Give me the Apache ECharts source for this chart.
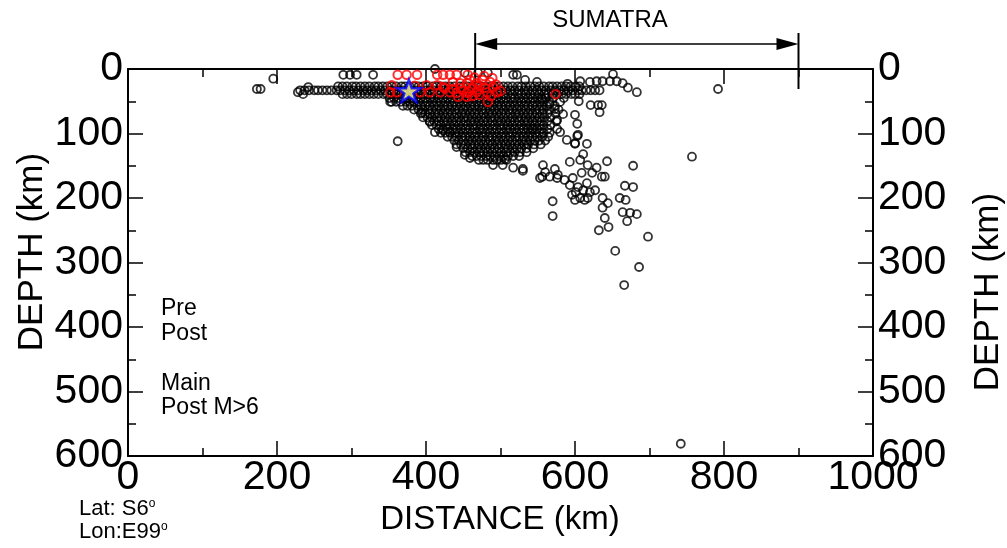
<!DOCTYPE html>
<html>
<head>
<meta charset="utf-8">
<script src="https://cdn.jsdelivr.net/npm/echarts@6/dist/echarts.min.js"></script>
<style>
html, body { margin: 0; padding: 0; background: #fff; }
#chart { width: 1007px; height: 548px; }
</style>
</head>
<body>
<div id="chart"></div>
<script>
// axes: distance along the profile (km), depth (km)
const distanceAxis = [0, 1000, 200];
const depthAxis = [0, 600, 100];

// scattered black events [distance, depth]
const edgeEvents = [
  [173,31],[178,31],[195,15],[228,36],[235,39],[242,28],
  [289,9],[298,9],[307,9],[329,9],[412,0],[452,6],[470,6],[483,6],[517,9],[522,9],
  [533,17],[549,20],[651,8],[590,23],[607,19],[620,20],[629,19],[637,19],[647,19],
  [656,19],[664,22],[671,29],[683,36],[792,31],
  [395,68],[405,82],[412,98],[423,95],[432,98],[441,121],[452,133],[459,138],
  [362,112],[374,45],[352,51]
];

// the fixed-depth band near 33 km, one row per depth: [depth, distances]
const bandRows = [
  [27, [282,288,294,301,306,312,318,324,331,336,342,348,354,360,367,372,378,384,390,396,402,409,414,420,426,
        432,438,445,450,456,462,468,474,480,487,492,498,504,510,516,523,528,534,540,546,552,558,565,570,576,
        582,588,594,601,606]],
  [33, [231,237,243,250,255,261,267,273,280,285,291,297,303,309,316,321,327,333,339,345,352,357,363,369,375,
        381,388,393,399,405,411,417,424,429,435,441,447,453,460,465,471,477,483,489,496,501,507,513,519,525,
        532,537,543,549,555,561,568,573,579,585,591,597,604,609,615,621,627,633]],
  [39, [288,294,300,307,312,318,324,330,336,343,348,354,360,366,372,379,384,390,396,402,408,415,420,426,432,
        438,444,451,456,462,468,474,480,487,492,498,504,510,516,523,528,534,540,546,552,559,564,570,576,582,
        588,595,600,606]]
];

// dense slab cluster below the band: [depth, distances]
const slabRows = [
  [45, [351,357,363,370,375,381,387,393,399,406,411,417,423,429,435,442,447,453,459,465,471,478,483,489,495,501,507,514,519,525,531,537,543,550,555,561,570,585]],
  [51, [354,360,366,373,378,384,390,396,402,409,414,420,426,432,438,445,450,456,462,468,474,481,486,492,498,504,510,517,522,528,534,540,546,553,558,566,580]],
  [57, [369,375,381,388,393,399,405,411,417,424,429,435,441,447,453,460,465,471,477,483,489,496,501,507,513,519,525,532,537,543,549,555,562,573]],
  [63, [384,390,396,403,408,414,420,426,432,439,444,450,456,462,468,475,480,486,492,498,504,511,516,522,528,534,540,547,552,558,566,578]],
  [69, [393,399,405,412,417,423,429,435,441,448,453,459,465,471,477,484,489,495,501,507,513,520,525,531,537,543,549,556,563,574]],
  [75, [396,402,408,415,420,426,432,438,444,451,456,462,468,474,480,487,492,498,504,510,516,523,528,534,540,546,552,559,567]],
  [81, [405,411,417,424,429,435,441,447,453,460,465,471,477,483,489,496,501,507,513,519,525,532,537,543,549,555,563,575]],
  [87, [408,414,420,427,432,438,444,450,456,463,468,474,480,486,492,499,504,510,516,522,528,535,540,546,552,558,567]],
  [93, [417,423,429,436,441,447,453,459,465,472,477,483,489,495,501,508,513,519,525,531,537,544,549,555,563,576]],
  [99, [420,426,432,439,444,450,456,462,468,475,480,486,492,498,504,511,516,522,528,534,540,547,552,558,566]],
  [105, [429,435,441,448,453,459,465,471,477,484,489,495,501,507,513,520,525,531,537,543,549,556,564]],
  [111, [438,444,450,457,462,468,474,480,486,493,498,504,510,516,522,529,534,540,546,552,560]],
  [117, [441,447,453,460,465,471,477,483,489,496,501,507,513,519,525,532,537,545,554]],
  [123, [450,456,462,469,474,480,486,492,498,505,510,516,522,528,535,544]],
  [129, [453,459,465,472,477,483,489,495,501,508,513,519,526,535]],
  [135, [462,468,474,481,486,492,498,504,510,517,525]],
  [141, [471,477,483,490,495,501,508]]
];

// deeper events along the dipping slab
const deepEvents = [
  [605,50],[621,56],[631,56],[636,56],[633,67],[556,47],[566,54],[573,62],[584,70],[600,71],
  [603,85],[576,79],[542,93],[580,98],[589,110],[600,116],[616,116],[604,102],[611,132],[607,141],
  [643,143],[678,150],[593,144],[573,155],[557,149],[556,167],[566,167],[577,164],[530,155],[517,153],
  [503,149],[490,149],[506,140],[603,104],[600,115],[629,153],[617,149],[560,160],[530,158],[553,169],
  [576,169],[586,172],[597,169],[609,161],[623,161],[636,167],[640,167],[593,180],[604,183],[616,177],
  [627,188],[596,195],[607,200],[617,200],[600,203],[570,205],[570,228],[637,200],[644,208],[637,215],
  [640,231],[660,200],[668,203],[667,181],[678,183],[664,222],[674,223],[683,225],[670,236],[632,250],
  [645,245],[698,260],[654,282],[686,307],[666,335],[757,136],[742,581],[611,188],[620,191],[601,191],
  [613,203]
];

// red events
const redEvents = [
  [362,9],[374,9],[388,9],[415,9],[423,9],[432,9],[441,9],[456,9],
  [354,25],[352,36],[361,36],[385,26],[401,25],[415,25],[423,28],[436,20],[446,22],[455,22],
  [468,22],[476,17],[486,20],[392,36],[405,36],[419,36],[432,36],[441,37],[455,37],[468,36],
  [482,36],[495,36],[500,34],[443,43],[455,43],[472,40],[483,51],[425,30],[436,31],[450,33],
  [462,29],[472,26],[479,29],[490,28],[459,17],[574,39],[465,13],[478,11],[489,14],[494,24],
  [446,30],[458,35],[470,32],[487,42],[462,42]
];

const mainShock = [[377, 34]];
const sumatraRange = [466, 900];
const legendLabels = ['Pre', 'Post', 'Main', 'Post M>6'];

const FONT = '"Liberation Sans", Arial, sans-serif';

function rowsToPoints(rows) {
  let pts = [];
  rows.forEach(function (r) {
    r[1].forEach(function (x) { pts.push([x, r[0]]); });
  });
  return pts;
}

const blackEvents = edgeEvents.concat(rowsToPoints(bandRows), rowsToPoints(slabRows), deepEvents);

let myChart = echarts.init(document.getElementById('chart'));

function xAxisOpt(pos) {
  return {
    type: 'value', position: pos,
    min: distanceAxis[0], max: distanceAxis[1], interval: distanceAxis[2],
    axisLine: { show: true, onZero: false, lineStyle: { color: '#000', width: 2 } },
    axisTick: { show: true, inside: true, length: 15, lineStyle: { color: '#000', width: 1.5 } },
    minorTick: { show: true, splitNumber: 2, length: 8, lineStyle: { color: '#000', width: 1.5 } },
    axisLabel: { show: pos === 'bottom', color: '#000', fontSize: 41, fontFamily: FONT, margin: 1,
      formatter: function (v) { return String(v); } },
    splitLine: { show: false }
  };
}

function yAxisOpt(pos) {
  return {
    type: 'value', position: pos, inverse: true,
    min: depthAxis[0], max: depthAxis[1], interval: depthAxis[2],
    axisLine: { show: true, onZero: false, lineStyle: { color: '#000', width: 2 } },
    axisTick: { show: true, inside: true, length: 15, lineStyle: { color: '#000', width: 1.5 } },
    minorTick: { show: true, splitNumber: 2, length: 8, lineStyle: { color: '#000', width: 1.5 } },
    axisLabel: { show: true, color: '#000', fontSize: 41, fontFamily: FONT, margin: 5,
      formatter: function (v) { return String(v); } },
    splitLine: { show: false }
  };
}

myChart.setOption({
  animation: false,
  backgroundColor: '#fff',
  grid: { left: 128, top: 69, width: 745, height: 387 },
  xAxis: [xAxisOpt('bottom'), xAxisOpt('top')],
  yAxis: [yAxisOpt('left'), yAxisOpt('right')],
  series: [
    {
      type: 'scatter', data: blackEvents, symbol: 'circle', symbolSize: 8,
      itemStyle: { color: 'rgba(0,0,0,0)', borderColor: '#000', borderWidth: 1.8 },
      silent: true, large: false
    },
    {
      type: 'scatter', data: redEvents, symbol: 'circle', symbolSize: 8.5,
      itemStyle: { color: 'rgba(0,0,0,0)', borderColor: '#ff0000', borderWidth: 2 },
      silent: true
    },
    {
      type: 'scatter', data: mainShock,
      symbol: 'path://M12,0 L14.9,8.6 L24,8.6 L16.6,14 L19.4,22.6 L12,17.3 L4.6,22.6 L7.4,14 L0,8.6 L9.1,8.6 Z',
      symbolSize: [24, 22],
      itemStyle: { color: '#ffff99', borderColor: '#0000ff', borderWidth: 2.5 },
      silent: true, z: 5
    }
  ]
});

// annotations
let bx0 = myChart.convertToPixel({ xAxisIndex: 0 }, sumatraRange[0]);
let bx1 = myChart.convertToPixel({ xAxisIndex: 0 }, sumatraRange[1]);
let arrowY = 44;
let lineStyle = { stroke: '#000', lineWidth: 2 };

let graphics = [
  { type: 'line', shape: { x1: bx0, y1: 33, x2: bx0, y2: 89 }, style: lineStyle },
  { type: 'line', shape: { x1: bx1, y1: 33, x2: bx1, y2: 89 }, style: lineStyle },
  { type: 'line', shape: { x1: bx0 + 10, y1: arrowY, x2: bx1 - 10, y2: arrowY }, style: { stroke: '#000', lineWidth: 1.5 } },
  { type: 'polygon', shape: { points: [[bx0, arrowY], [bx0 + 22, arrowY - 6], [bx0 + 22, arrowY + 6]] }, style: { fill: '#000' } },
  { type: 'polygon', shape: { points: [[bx1, arrowY], [bx1 - 22, arrowY - 6], [bx1 - 22, arrowY + 6]] }, style: { fill: '#000' } },
  { type: 'text', x: 610, y: 20, style: { text: 'SUMATRA', fontSize: 24, fontFamily: FONT, fill: '#000', align: 'center', verticalAlign: 'middle' } },
  { type: 'text', x: 32, y: 252, rotation: Math.PI / 2, style: { text: 'DEPTH (km)', fontSize: 35, fontFamily: FONT, fill: '#000', align: 'center', verticalAlign: 'middle' } },
  { type: 'text', x: 988, y: 292, rotation: Math.PI / 2, style: { text: 'DEPTH (km)', fontSize: 35, fontFamily: FONT, fill: '#000', align: 'center', verticalAlign: 'middle' } },
  { type: 'text', x: 500, y: 520, style: { text: 'DISTANCE (km)', fontSize: 33, fontFamily: FONT, fill: '#000', align: 'center', verticalAlign: 'middle' } },
  { type: 'text', x: 79, y: 509, style: { text: 'Lat: S6{s|o}', fontSize: 22, fontFamily: FONT, fill: '#000', verticalAlign: 'middle',
      rich: { s: { fontSize: 12, fontFamily: FONT, verticalAlign: 'top', lineHeight: 22 } } } },
  { type: 'text', x: 79, y: 532, style: { text: 'Lon:E99{s|o}', fontSize: 22, fontFamily: FONT, fill: '#000', verticalAlign: 'middle',
      rich: { s: { fontSize: 12, fontFamily: FONT, verticalAlign: 'top', lineHeight: 22 } } } }
];

let legendY = [309, 334, 384, 408];
legendLabels.forEach(function (t, i) {
  graphics.push({ type: 'text', x: 161, y: legendY[i], style: { text: t, fontSize: 23, fontFamily: FONT, fill: '#000', verticalAlign: 'middle' } });
});

myChart.setOption({ graphic: graphics });
</script>
</body>
</html>
